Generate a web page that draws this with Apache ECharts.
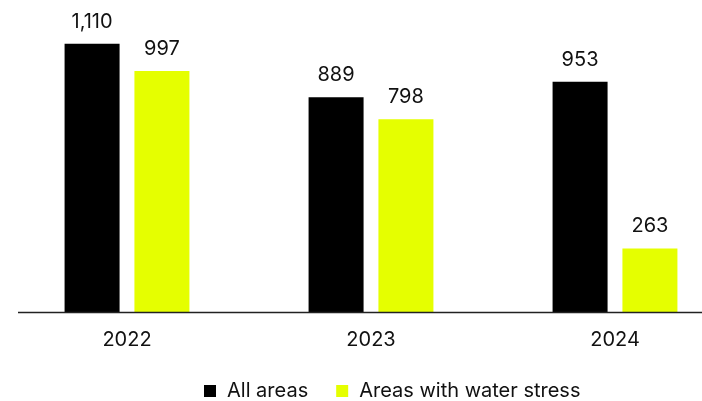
<!DOCTYPE html>
<html>
<head>
<meta charset="utf-8">
<script src="https://cdn.jsdelivr.net/npm/echarts@6/dist/echarts.min.js"></script>
<style>
  html, body { margin: 0; padding: 0; background: #fff; }
  #chart { width: 702px; height: 401px; }
</style>
</head>
<body>
<div id="chart"></div>
<script>
// Years shown on the category axis
const years = ['2022', '2023', '2024'];
// Series values
const allAreas = [1110, 889, 953];
const waterStress = [997, 798, 263];
const seriesNames = ['All areas', 'Areas with water stress'];

const FONT = 'Inter, "Noto Sans", sans-serif';
const fmt = v => Number(v).toLocaleString('en-US');

const chart = echarts.init(document.getElementById('chart'), null, { renderer: 'canvas' });

const labelStyle = {
  show: true,
  position: 'top',
  distance: 12,
  color: '#111',
  fontFamily: FONT,
  fontSize: 20,
  formatter: p => fmt(p.value)
};

chart.setOption({
  animation: false,
  backgroundColor: '#fff',
  grid: {
    left: 5, width: 732, top: 22, bottom: 89,
    containLabel: false,
    outerBoundsMode: 'none'
  },
  legend: {
    left: 204,
    bottom: 0,
    padding: 0,
    itemWidth: 12,
    itemHeight: 12,
    itemGap: 28,
    icon: 'rect',
    textStyle: { color: '#111', fontFamily: FONT, fontSize: 20, padding: [0, 0, 0, 6] },
    data: seriesNames
  },
  xAxis: {
    type: 'category',
    data: years,
    axisLine: { show: false },
    axisTick: { show: false },
    axisLabel: { color: '#111', fontFamily: FONT, fontSize: 20, margin: 18 }
  },
  yAxis: {
    type: 'value',
    min: 0,
    max: 1200,
    show: false,
    splitLine: { show: false }
  },
  series: [
    {
      name: seriesNames[0],
      type: 'bar',
      data: allAreas,
      barWidth: 55,
      barGap: '27%',
      itemStyle: { color: '#000000' },
      label: labelStyle
    },
    {
      name: seriesNames[1],
      type: 'bar',
      data: waterStress,
      barWidth: 55,
      itemStyle: { color: '#e5ff00' },
      label: labelStyle
    }
  ]
});

// Baseline rule along the value-axis zero, running from the left margin to the right edge
const y0 = Math.round(chart.convertToPixel({ yAxisIndex: 0 }, 0)) + 0.5;
chart.setOption({
  graphic: [{
    type: 'line',
    shape: { x1: 18, y1: y0, x2: 702, y2: y0 },
    style: { stroke: '#222', lineWidth: 1.5 },
    z: 10
  }]
});
</script>
</body>
</html>
